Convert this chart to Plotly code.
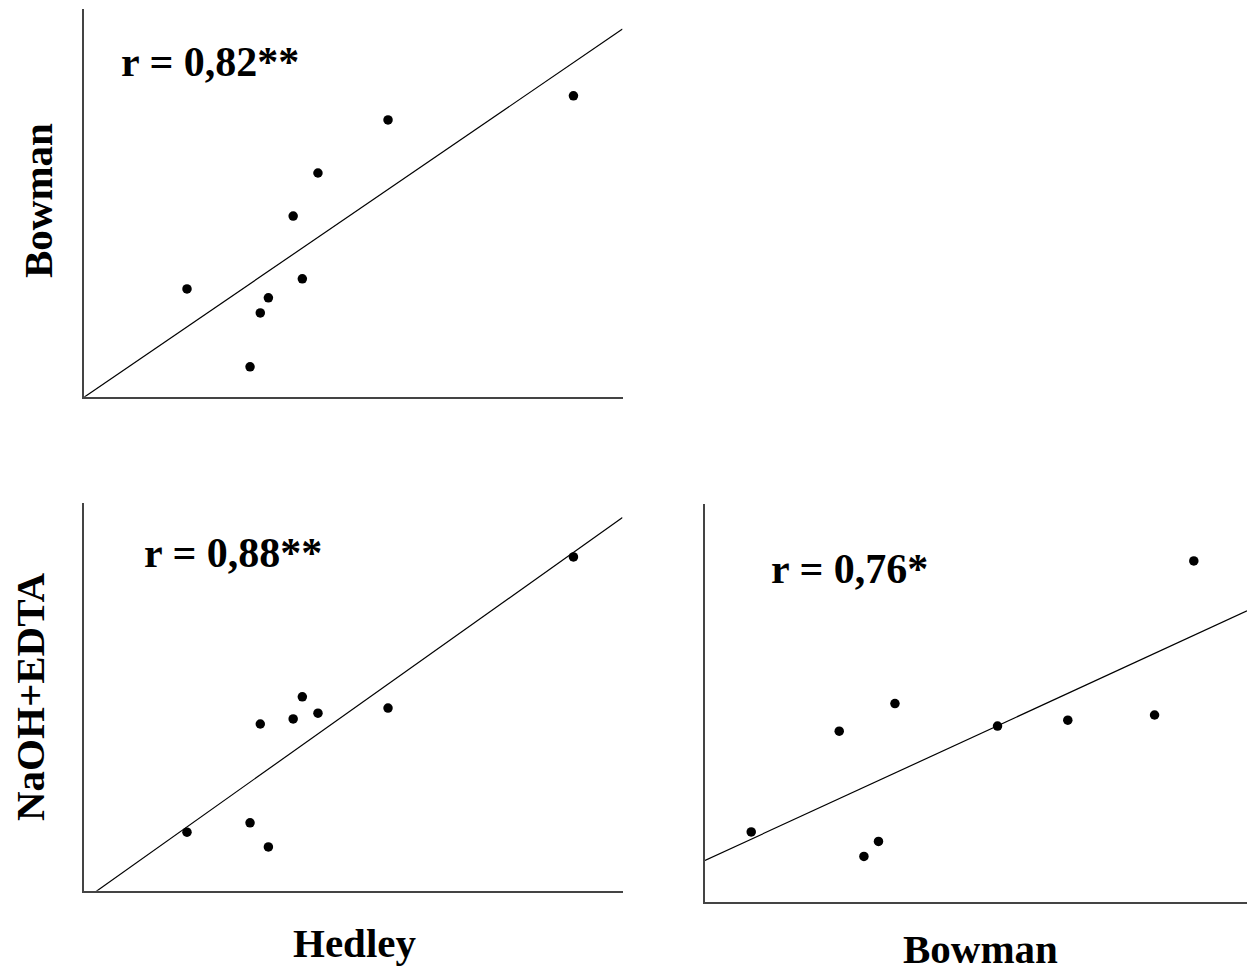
import numpy as np
import plotly.graph_objects as go

# ---- data (arbitrary units) ----
hedley = [19.2, 30.9, 32.8, 34.3, 38.9, 40.6, 43.5, 56.5, 90.9]
bowman = [27.8, 7.7, 21.6, 25.5, 46.6, 30.4, 57.7, 71.4, 77.6]
naoh_edta = [15.1, 17.5, 43.0, 11.3, 44.3, 50.0, 45.8, 47.1, 86.1]

r_labels = ["r = 0,82**", "r = 0,88**", "r = 0,76*"]
axis_titles = ["Bowman", "NaOH+EDTA", "Hedley", "Bowman"]

W, H = 1247, 976
FONT = "Liberation Serif, Times New Roman, serif"


def px(x):
    return min(1.0, max(0.0, x / W))


def py(y):
    return min(1.0, max(0.0, 1 - y / H))


fig = go.Figure()

panels = [
    # (xdata, ydata, xaxis id, yaxis id, xrange, yrange)
    (hedley, bowman, "x", "y", [0, 100], [0, 100]),
    (hedley, naoh_edta, "x2", "y2", [0, 100], [0, 100]),
    (bowman, naoh_edta, "x3", "y3", [0.4, 86.0], [-0.3, 100.5]),
]

for xs, ys, xa, ya, xr, yr in panels:
    slope, icpt = np.polyfit(xs, ys, 1)
    lx = np.array(xr)
    fig.add_trace(go.Scatter(x=lx, y=slope * lx + icpt, mode="lines",
                             line=dict(color="black", width=1.2),
                             xaxis=xa, yaxis=ya, showlegend=False, hoverinfo="skip"))
    fig.add_trace(go.Scatter(x=xs, y=ys, mode="markers",
                             marker=dict(color="black", size=9.5),
                             xaxis=xa, yaxis=ya, showlegend=False))

axis_common = dict(showgrid=False, zeroline=False, showticklabels=False, ticks="",
                   showline=True, linecolor="#444", linewidth=1.5, mirror=False)

fig.update_layout(
    width=W, height=H,
    margin=dict(l=0, r=0, t=0, b=0),
    paper_bgcolor="white", plot_bgcolor="white",
    xaxis=dict(domain=[px(83.5), px(622.5)], range=panels[0][4], anchor="y", **axis_common),
    yaxis=dict(domain=[py(396.7), py(9)], range=panels[0][5], anchor="x", **axis_common),
    xaxis2=dict(domain=[px(83.5), px(622.5)], range=panels[1][4], anchor="y2", **axis_common),
    yaxis2=dict(domain=[py(890.7), py(503)], range=panels[1][5], anchor="x2", **axis_common),
    xaxis3=dict(domain=[px(705), 1.0], range=panels[2][4], anchor="y3", **axis_common),
    yaxis3=dict(domain=[py(902.3), py(504)], range=panels[2][5], anchor="x3", **axis_common),
)

ann_font = dict(family=FONT, size=42, color="black")
title_font = dict(family=FONT, size=41, color="black")

annotations = [
    dict(text="<b>%s</b>" % r_labels[0], x=px(210), y=py(62), font=ann_font),
    dict(text="<b>%s</b>" % r_labels[1], x=px(233), y=py(553), font=ann_font),
    dict(text="<b>%s</b>" % r_labels[2], x=px(849), y=py(569), font=ann_font),
    dict(text="<b>%s</b>" % axis_titles[0], x=px(38), y=py(201), font=title_font, textangle=-90),
    dict(text="<b>%s</b>" % axis_titles[1], x=px(30), y=py(697), font=title_font, textangle=-90),
    dict(text="<b>%s</b>" % axis_titles[2], x=px(354), y=py(943), font=title_font),
    dict(text="<b>%s</b>" % axis_titles[3], x=px(980), y=py(949), font=title_font),
]
for a in annotations:
    a.update(xref="paper", yref="paper", xanchor="center", yanchor="middle", showarrow=False)
fig.update_layout(annotations=annotations)

# remove the default 8px body margin so the 1247x976 figure fills the page exactly
fig.write_html("out.html",
               config={"displayModeBar": False},
               post_script="document.body.style.margin='0';document.body.style.overflow='hidden';")
